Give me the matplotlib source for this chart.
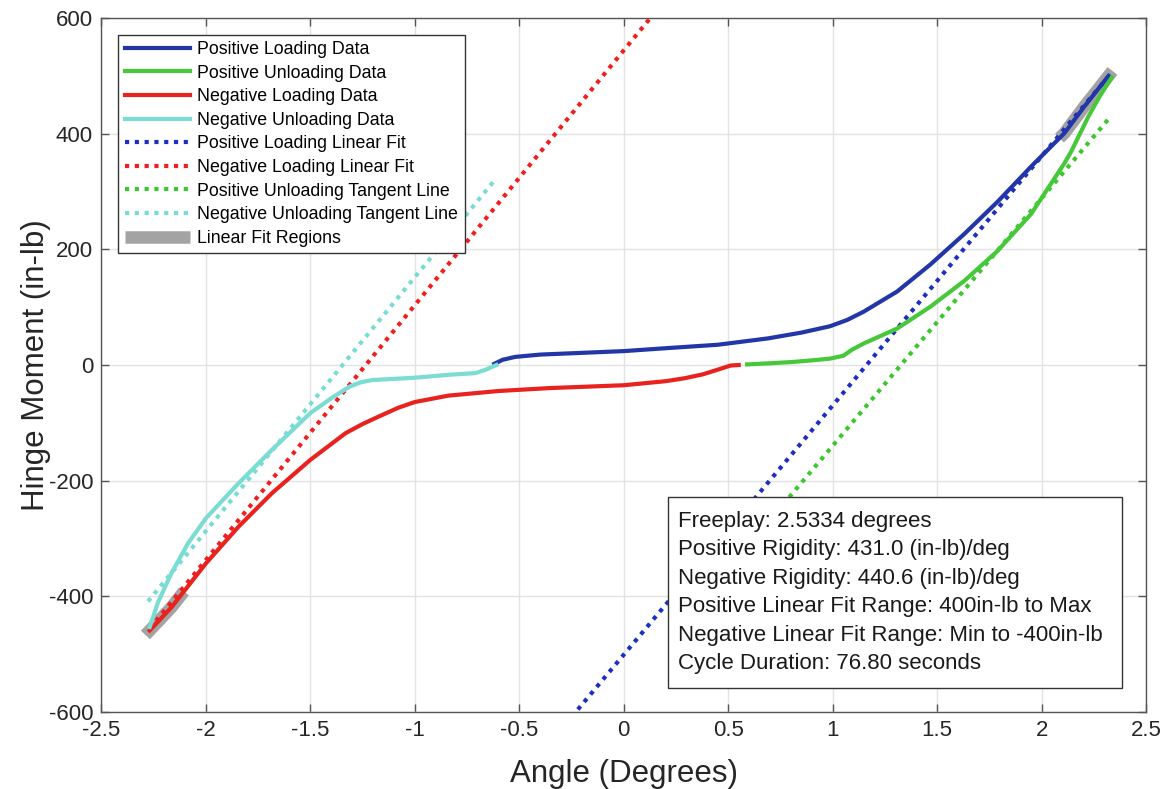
import numpy as np
import matplotlib
matplotlib.use('Agg')
import matplotlib.pyplot as plt
from matplotlib.lines import Line2D

# Hinge moment vs angle
pos_load_x = [-0.62, -0.58, -0.52, -0.4, -0.2, 0.0, 0.2, 0.45, 0.69, 0.85, 0.987,
              1.07, 1.147, 1.308, 1.468, 1.628, 1.788, 1.949, 2.109, 2.2, 2.32]
pos_load_y = [2, 9, 14, 18, 21, 24, 29, 35, 46, 56, 67,
              78, 92, 127, 174, 226, 282, 343, 401, 445, 500]

pos_unload_x = [2.335, 2.28, 2.224, 2.141, 2.109, 1.949, 1.788, 1.628, 1.468, 1.308,
                1.147, 1.09, 1.051, 0.987, 0.9, 0.8, 0.7, 0.59]
pos_unload_y = [497, 466, 430, 369, 349, 261, 197, 145, 101, 63,
                37, 26, 16, 11, 8, 5, 3, 1]

neg_load_x = [0.55, 0.51, 0.45, 0.38, 0.29, 0.2, 0.0, -0.36, -0.6, -0.84, -1.0,
              -1.08, -1.172, -1.25, -1.332, -1.5, -1.685, -1.845, -2.0, -2.165, -2.269]
neg_load_y = [0, -1, -8, -16, -23, -28, -35, -40, -45, -53, -64,
              -74, -89, -102, -118, -164, -222, -280, -343, -419, -459]

neg_unload_x = [-0.61, -0.66, -0.71, -0.84, -1.0, -1.1, -1.204, -1.26, -1.31, -1.39,
                -1.5, -1.685, -1.845, -2.0, -2.085, -2.165, -2.229, -2.269]
neg_unload_y = [0, -8, -14, -17, -22, -24, -26, -30, -37, -55,
                -83, -147, -205, -265, -308, -360, -410, -453]

# Fit / tangent lines: slope (in-lb/deg), zero crossing (deg), angle range
pos_fit = (431.0, 1.162, (-0.25, 2.32))
neg_fit = (440.6, -1.235, (-2.269, 0.2))
pos_tan = (428.0, 1.326, (0.55, 2.325))
neg_tan = (439.0, -1.346, (-2.277, -0.617))

fit_threshold = 400  # in-lb

info_lines = [
    'Freeplay: 2.5334 degrees',
    'Positive Rigidity: 431.0 (in-lb)/deg',
    'Negative Rigidity: 440.6 (in-lb)/deg',
    'Positive Linear Fit Range: 400in-lb to Max',
    'Negative Linear Fit Range: Min to -400in-lb',
    'Cycle Duration: 76.80 seconds',
]

plt.rcParams.update({
    'font.family': ['Liberation Sans', 'DejaVu Sans'],
    'axes.unicode_minus': False,
    'axes.edgecolor': '#555555',
    'axes.linewidth': 1.0,
    'xtick.color': '#555555',
    'ytick.color': '#555555',
    'xtick.labelcolor': '#262626',
    'ytick.labelcolor': '#262626',
    'xtick.labelsize': 16,
    'ytick.labelsize': 16,
})

BLUE = '#2336a8'
GREEN = '#46c83a'
RED = '#e8231f'
CYAN = '#7adcd2'
GRAY = '#a3a3a3'


def line_from(params):
    slope, x0, (xa, xb) = params
    xs = np.array([xa, xb])
    return xs, slope * (xs - x0)


fig = plt.figure(figsize=(11.66, 7.89), dpi=100)
ax = fig.add_axes([0.087, 0.0976, 0.896, 0.8796])

lw = 3.0
dot = (0, (1.0, 1.35))

# linear fit regions (under the data): data beyond +/-400 in-lb
pl_x = np.array(pos_load_x)
pl_y = np.array(pos_load_y)
nl_x = np.array(neg_load_x)
nl_y = np.array(neg_load_y)
m = pl_y >= fit_threshold
gx = np.r_[np.interp(fit_threshold, pl_y, pl_x), pl_x[m]]
gy = np.r_[fit_threshold, pl_y[m]]
ax.plot(gx, gy, color=GRAY, lw=9, solid_capstyle='projecting', zorder=2)
m = nl_y <= -fit_threshold
gx = np.r_[np.interp(fit_threshold, -nl_y, nl_x), nl_x[m]]
gy = np.r_[-fit_threshold, nl_y[m]]
ax.plot(gx, gy, color=GRAY, lw=9, solid_capstyle='projecting', zorder=2)

ax.plot(pos_load_x, pos_load_y, color=BLUE, lw=lw, zorder=4, label='Positive Loading Data')
ax.plot(pos_unload_x, pos_unload_y, color=GREEN, lw=lw, zorder=4, label='Positive Unloading Data')
ax.plot(neg_load_x, neg_load_y, color=RED, lw=lw, zorder=4, label='Negative Loading Data')
ax.plot(neg_unload_x, neg_unload_y, color=CYAN, lw=lw, zorder=4, label='Negative Unloading Data')

x, y = line_from(pos_fit)
ax.plot(x, y, color='#1c2fc0', lw=lw, ls=dot, zorder=3, label='Positive Loading Linear Fit')
x, y = line_from(neg_fit)
ax.plot(x, y, color='#f01e1e', lw=lw, ls=dot, zorder=3, label='Negative Loading Linear Fit')
x, y = line_from(pos_tan)
ax.plot(x, y, color='#3cc82d', lw=lw, ls=dot, zorder=3, label='Positive Unloading Tangent Line')
x, y = line_from(neg_tan)
ax.plot(x, y, color='#76dcd4', lw=lw, ls=dot, zorder=3, label='Negative Unloading Tangent Line')

ax.set_xlim(-2.5, 2.5)
ax.set_ylim(-600, 600)
ax.set_xticks(np.arange(-2.5, 2.51, 0.5))
ax.set_yticks(np.arange(-600, 601, 200))
ax.set_xticklabels(['-2.5', '-2', '-1.5', '-1', '-0.5', '0', '0.5', '1', '1.5', '2', '2.5'])
ax.tick_params(direction='in', length=6, width=1.0, top=True, right=True, pad=6)
ax.grid(True, color='#e3e3e3', lw=1.0, zorder=0)
ax.set_axisbelow(True)

ax.set_xlabel('Angle (Degrees)', fontsize=22.5, color='#262626', labelpad=13)
ax.set_ylabel('Hinge Moment (in-lb)', fontsize=22.5, color='#262626', labelpad=-2)

handles, labels = ax.get_legend_handles_labels()
handles.append(Line2D([], [], color=GRAY, lw=9, solid_capstyle='butt'))
labels.append('Linear Fit Regions')
order = ['Positive Loading Data', 'Positive Unloading Data', 'Negative Loading Data',
         'Negative Unloading Data', 'Positive Loading Linear Fit', 'Negative Loading Linear Fit',
         'Positive Unloading Tangent Line', 'Negative Unloading Tangent Line', 'Linear Fit Regions']
hmap = dict(zip(labels, handles))
leg = ax.legend([hmap[k] for k in order], order, loc='upper left', fontsize=12.8,
                bbox_to_anchor=(0.0, 1.0), borderaxespad=0.95,
                frameon=True, fancybox=False, framealpha=1.0, edgecolor='#333333',
                handlelength=3.7, handletextpad=0.4, labelspacing=0.37, borderpad=0.35)
leg.get_frame().set_linewidth(1.0)
leg.set_zorder(10)

# info box
box = plt.Rectangle((0.542, 0.0346), 0.4346, 0.2752, transform=ax.transAxes,
                    facecolor='white', edgecolor='#333333', lw=1.0, zorder=11)
ax.add_patch(box)
for i, line in enumerate(info_lines):
    ax.text(0.552, 0.2752 - i * 0.0412, line, transform=ax.transAxes, fontsize=16,
            color='#1a1a1a', va='center', ha='left', zorder=12)

fig.savefig('out.png', dpi=100, facecolor='white')
